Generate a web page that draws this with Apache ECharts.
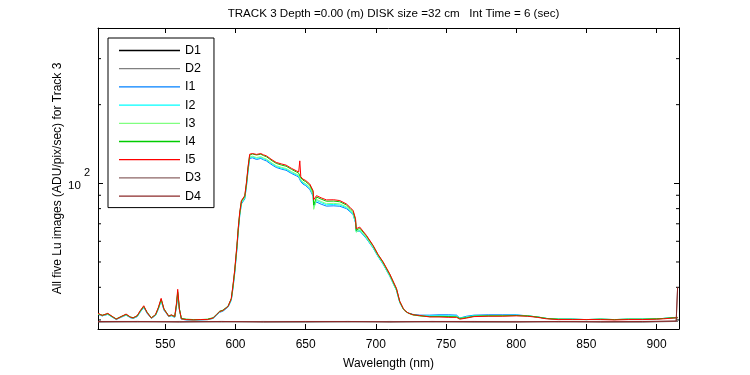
<!DOCTYPE html>
<html>
<head>
<meta charset="utf-8">
<script src="https://cdn.jsdelivr.net/npm/echarts@6/dist/echarts.min.js"></script>
<style>
  html, body { margin: 0; padding: 0; background: #fff; }
  #chart { width: 750px; height: 375px; }
</style>
</head>
<body>
<div id="chart"></div>
<script>
// wavelength grid (nm) for the light series
var wl = [
  502, 505, 509, 512, 515, 519, 522, 525, 527, 530,
  532, 534.6, 537, 540, 543, 545, 547, 549, 552.4, 554.3,
  556.7, 558, 558.8, 560, 561.4, 565, 570, 575, 580, 584,
  586.4, 588.7, 591, 594.7, 597, 598.2, 599.4, 601, 602, 603,
  604.2, 606.6, 607.8, 609, 610.1, 612, 615, 618, 620, 622,
  626, 629, 633, 636, 640, 643.4, 645, 645.8, 646.5, 648,
  650, 652.9, 655.3, 655.7, 657.7, 661, 664.8, 670, 674.3, 679,
  681.5, 683.8, 685.5, 686, 688.5, 693.3, 698, 701.5, 705.1, 709.9,
  714.7, 717, 719.4, 720.6, 723, 726.5, 731.3, 738.4, 745, 752,
  757.5, 759.8, 764.6, 770, 780, 790, 800, 808, 815, 821.6,
  830, 840, 850, 860, 870, 880, 890, 900, 905, 911.8,
  915
];

var I1 = [
  31.5, 31.1, 31.5, 30.8, 30.1, 30.8, 31.3, 30.6, 30.4, 30.9,
  32.1, 33.5, 31.8, 30.4, 31.2, 33.0, 35.5, 32.7, 30.9, 31.1,
  30.7, 34.0, 37.6, 32.8, 30.2, 30.0, 30.0, 30.0, 30.1, 30.4,
  31.2, 32.1, 32.4, 33.6, 35.7, 39.7, 45.2, 56.0, 66.0, 75.2,
  83.4, 87.2, 97.5, 112.5, 124.5, 125.2, 123.4, 124.5, 123, 121.8,
  117.6, 115, 113.2, 112.2, 109, 106.8, 105.7, 106.4, 101.5, 99.4,
  98, 94.8, 89.2, 82, 84.8, 83.2, 81.8, 82, 81.7, 80,
  78, 75.8, 70.6, 65.6, 65.7, 61.4, 56.6, 52.5, 49.1, 44.1,
  38.9, 35.0, 33.1, 32.5, 31.9, 31.5, 31.3, 31.3, 31.4, 31.4,
  31.3, 30.5, 31.0, 31.3, 31.4, 31.4, 31.4, 31.1, 30.8, 30.4,
  30.2, 30.2, 30.1, 30.2, 30.1, 30.2, 30.2, 30.3, 30.4, 30.6,
  30.7
];

var I2 = [
  31.6, 31.1, 31.6, 30.8, 30.2, 30.9, 31.4, 30.7, 30.4, 31.0,
  32.2, 33.6, 31.9, 30.5, 31.3, 33.1, 35.7, 32.8, 31.0, 31.2,
  30.8, 34.2, 38.0, 32.9, 30.3, 30.1, 30.0, 30.1, 30.1, 30.4,
  31.3, 32.2, 32.5, 33.7, 35.9, 40.0, 45.5, 56.5, 66.6, 75.8,
  84.0, 87.8, 98.2, 113.3, 125.5, 126.3, 124.6, 125.6, 124.2, 123,
  118.8, 116, 114.2, 113.2, 110, 107.8, 106.7, 107.4, 102.4, 100.3,
  99, 95.8, 90, 81, 86, 84.4, 82.8, 83, 82.6, 80.7,
  78.5, 76.3, 71, 65.2, 66, 61.7, 56.8, 52.6, 49.2, 44.2,
  39.0, 35.1, 33.1, 32.5, 31.9, 31.4, 31.2, 31.1, 31.2, 31.1,
  31.1, 30.5, 30.8, 31.2, 31.2, 31.2, 31.3, 31.1, 30.8, 30.4,
  30.2, 30.2, 30.1, 30.2, 30.1, 30.2, 30.2, 30.3, 30.4, 30.5,
  30.6
];

var I3 = [
  31.6, 31.2, 31.6, 30.9, 30.2, 30.9, 31.4, 30.7, 30.5, 31.0,
  32.3, 33.7, 32.0, 30.5, 31.3, 33.2, 35.8, 32.9, 31.0, 31.2,
  30.8, 34.4, 38.2, 33.0, 30.3, 30.1, 30.0, 30.1, 30.1, 30.5,
  31.4, 32.3, 32.6, 33.8, 36.0, 40.2, 45.8, 56.8, 67.0, 76.2,
  84.5, 88.2, 98.8, 114, 126.2, 127, 125.5, 126.5, 125, 123.8,
  119.5, 116.8, 115, 114, 110.8, 108.5, 107.4, 108, 103.2, 101,
  99.7, 96.6, 90.5, 79.5, 86.8, 85.2, 83.6, 83.8, 83.4, 81.3,
  79, 76.8, 71.4, 65, 66.4, 62, 57, 52.8, 49.4, 44.3,
  39.0, 35.1, 33.1, 32.5, 31.8, 31.3, 31.1, 30.9, 31.0, 30.9,
  30.9, 30.4, 30.7, 31.0, 31.1, 31.2, 31.2, 31.1, 30.8, 30.4,
  30.2, 30.1, 30.1, 30.2, 30.1, 30.2, 30.2, 30.3, 30.4, 30.5,
  30.6
];

var I4 = [
  31.7, 31.3, 31.7, 30.9, 30.3, 31.0, 31.5, 30.8, 30.6, 31.1,
  32.4, 33.8, 32.1, 30.6, 31.4, 33.3, 36.0, 33.1, 31.1, 31.3,
  30.9, 34.6, 38.5, 33.1, 30.4, 30.2, 30.1, 30.1, 30.2, 30.6,
  31.5, 32.4, 32.7, 33.9, 36.2, 40.5, 46.2, 57.4, 67.6, 77.0,
  85.4, 89.2, 100, 115.5, 128.2, 129.5, 128.4, 129.2, 127.6, 126.4,
  122, 119.2, 117.3, 116.3, 113, 110.5, 109.3, 110.2, 105, 102.8,
  101.5, 98.4, 92.5, 82.5, 88.6, 87, 85.4, 85.5, 85, 82.6,
  80.2, 77.9, 72.6, 66, 67.4, 62.8, 57.7, 53.3, 49.9, 44.8,
  39.4, 35.3, 33.2, 32.6, 31.9, 31.4, 31.1, 30.9, 30.9, 30.9,
  30.8, 30.4, 30.6, 31.0, 31.1, 31.1, 31.2, 31.1, 30.8, 30.4,
  30.2, 30.2, 30.1, 30.2, 30.1, 30.2, 30.2, 30.3, 30.4, 30.6,
  30.6
];

var I5 = [
  31.8, 31.2, 31.8, 31.0, 30.2, 31.0, 31.6, 30.8, 30.5, 31.2,
  32.5, 34.0, 32.0, 30.5, 31.5, 33.5, 36.3, 33.0, 31.0, 31.4,
  30.9, 35.0, 39.3, 33.0, 30.3, 30.1, 30.0, 30.1, 30.1, 30.5,
  31.4, 32.3, 32.6, 33.8, 36.3, 40.8, 46.5, 57.9, 68.0, 77.6,
  85.9, 89.7, 101, 116.6, 129.3, 130, 129, 130, 128.5, 127.4,
  123, 120.2, 118.5, 117.4, 114, 111.6, 110.5, 121.9, 106, 103.8,
  102.5, 99.4, 93.7, 86.5, 89.7, 88, 86.4, 86.5, 85.9, 83.4,
  81, 78.7, 73.2, 67, 68.0, 63.2, 57.9, 53.5, 50.1, 45,
  39.6, 35.4, 33.3, 32.6, 31.9, 31.4, 31.2, 30.8, 30.8, 30.7,
  30.7, 30.2, 30.5, 30.9, 31.0, 31.0, 31.1, 31.0, 30.7, 30.3,
  30.1, 30.1, 30.1, 30.1, 30.0, 30.1, 30.1, 30.2, 30.3, 30.5,
  30.6
];

// dark frames, coarser grid
var darkWl = [502, 530, 560, 590, 620, 650, 680, 710, 740, 770, 800, 830, 860, 890, 914, 915];
var D1 = [29.5, 29.6, 29.5, 29.6, 29.5, 29.5, 29.6, 29.5, 29.6, 29.5, 29.5, 29.6, 29.5, 29.5, 29.6, 29.6];
var D2 = [29.6, 29.5, 29.6, 29.5, 29.6, 29.6, 29.5, 29.6, 29.5, 29.6, 29.6, 29.5, 29.6, 29.6, 29.6, 29.7];
var D3 = [29.5, 29.5, 29.6, 29.5, 29.6, 29.5, 29.5, 29.6, 29.5, 29.5, 29.6, 29.5, 29.6, 29.5, 29.7, 39.8];
var D4 = [29.6, 29.6, 29.5, 29.6, 29.5, 29.6, 29.6, 29.5, 29.6, 29.6, 29.5, 29.6, 29.5, 29.6, 29.7, 40.0];

var minorTicks = [30, 40, 50, 60, 70, 80, 90, 200, 300];

var xMin = 502, xMax = 916;
var yMin = 27.7, yMax = 393;
var font = 'Liberation Sans, Arial, sans-serif';

function zip(xs, ys) {
  return xs.map(function (x, i) { return [x, ys[i]]; });
}

var seriesDefs = [
  { name: 'D1', x: darkWl, y: D1, color: '#000000' },
  { name: 'D2', x: darkWl, y: D2, color: '#808080' },
  { name: 'I1', x: wl, y: I1, color: '#0080ff' },
  { name: 'I2', x: wl, y: I2, color: '#00ffff' },
  { name: 'I3', x: wl, y: I3, color: '#80ff80' },
  { name: 'I4', x: wl, y: I4, color: '#00cc00' },
  { name: 'I5', x: wl, y: I5, color: '#ff0000' },
  { name: 'D3', x: darkWl, y: D3, color: '#8c6464' },
  { name: 'D4', x: darkWl, y: D4, color: '#8b2a2a' }
];

var series = seriesDefs.map(function (s) {
  return {
    name: s.name,
    type: 'line',
    data: zip(s.x, s.y),
    symbol: 'none',
    showSymbol: false,
    lineStyle: { width: 1, color: s.color },
    itemStyle: { color: s.color },
    silent: true
  };
});

// minor log ticks, drawn at the left and right frame edges
series.push({
  type: 'custom',
  silent: true,
  data: minorTicks.map(function (v) { return [xMin, v]; }),
  encode: { x: 0, y: 1 },
  renderItem: function (params, api) {
    var y = api.coord([api.value(0), api.value(1)])[1];
    var cs = params.coordSys;
    var st = { stroke: '#000', lineWidth: 1 };
    return {
      type: 'group',
      children: [
        { type: 'line', shape: { x1: cs.x, y1: y, x2: cs.x + 3, y2: y }, style: st },
        { type: 'line', shape: { x1: cs.x + cs.width - 3, y1: y, x2: cs.x + cs.width, y2: y }, style: st }
      ]
    };
  }
});

var axisLine = { show: true, lineStyle: { color: '#000', width: 1 } };

var option = {
  animation: false,
  backgroundColor: '#fff',
  title: {
    text: 'TRACK 3 Depth =0.00 (m) DISK size =32 cm   Int Time = 6 (sec)',
    left: 388.5,
    textAlign: 'center',
    top: 3,
    textStyle: { fontSize: 11.6, fontWeight: 'normal', color: '#000', fontFamily: font }
  },
  legend: {
    data: seriesDefs.map(function (s) { return s.name; }),
    orient: 'vertical',
    left: 108,
    top: 38,
    padding: [6, 13, 5, 11],
    itemWidth: 61,
    itemHeight: 14,
    itemGap: 5.2,
    icon: 'path://M0,0H61V1.3H0Z',
    symbolKeepAspect: true,
    borderColor: '#000',
    borderWidth: 1,
    backgroundColor: '#fff',
    selectedMode: false,
    textStyle: { fontSize: 12.5, color: '#000', fontFamily: font }
  },
  grid: { left: 98, right: 71, top: 28, bottom: 44 },
  xAxis: [
    {
      type: 'value',
      min: xMin,
      max: xMax,
      splitNumber: 8,
      name: 'Wavelength (nm)',
      nameLocation: 'middle',
      nameGap: 29,
      nameTextStyle: { fontSize: 12, color: '#000', fontFamily: font },
      axisLine: axisLine,
      axisTick: { show: true, inside: true, length: 5, lineStyle: { color: '#000' } },
      axisLabel: { showMinLabel: false, showMaxLabel: false, margin: 10, fontSize: 12, color: '#000', fontFamily: font },
      splitLine: { show: false }
    },
    {
      type: 'value',
      position: 'top',
      min: xMin,
      max: xMax,
      splitNumber: 8,
      axisLine: axisLine,
      axisTick: { show: true, inside: true, length: 5, lineStyle: { color: '#000' } },
      axisLabel: { show: false },
      splitLine: { show: false }
    }
  ],
  yAxis: [
    {
      type: 'log',
      logBase: 10,
      min: yMin,
      max: yMax,
      name: 'All five Lu images (ADU/pix/sec) for Track 3',
      nameLocation: 'middle',
      nameGap: 34,
      nameMoveOverlap: false,
      nameTextStyle: { fontSize: 12, color: '#000', fontFamily: font },
      axisLine: axisLine,
      axisTick: { show: true, inside: true, length: 5, lineStyle: { color: '#000' } },
      axisLabel: {
        margin: 8,
        color: '#000',
        fontFamily: font,
        padding: [0, 0, 7, 0],
        formatter: function (v) { return Math.round(v) === 100 ? '{b|10}{s|2}' : ''; },
        rich: {
          b: { fontSize: 11.5, fontFamily: font, color: '#000', verticalAlign: 'bottom' },
          s: { fontSize: 11, fontFamily: font, color: '#000', verticalAlign: 'top', padding: [0, 0, 14, 3] }
        }
      },
      splitLine: { show: false }
    },
    {
      type: 'log',
      logBase: 10,
      position: 'right',
      min: yMin,
      max: yMax,
      axisLine: axisLine,
      axisTick: { show: true, inside: true, length: 5, lineStyle: { color: '#000' } },
      axisLabel: { show: false },
      splitLine: { show: false }
    }
  ],
  series: series
};

var chart = echarts.init(document.getElementById('chart'), null, { renderer: 'canvas' });
chart.setOption(option);
</script>
</body>
</html>
